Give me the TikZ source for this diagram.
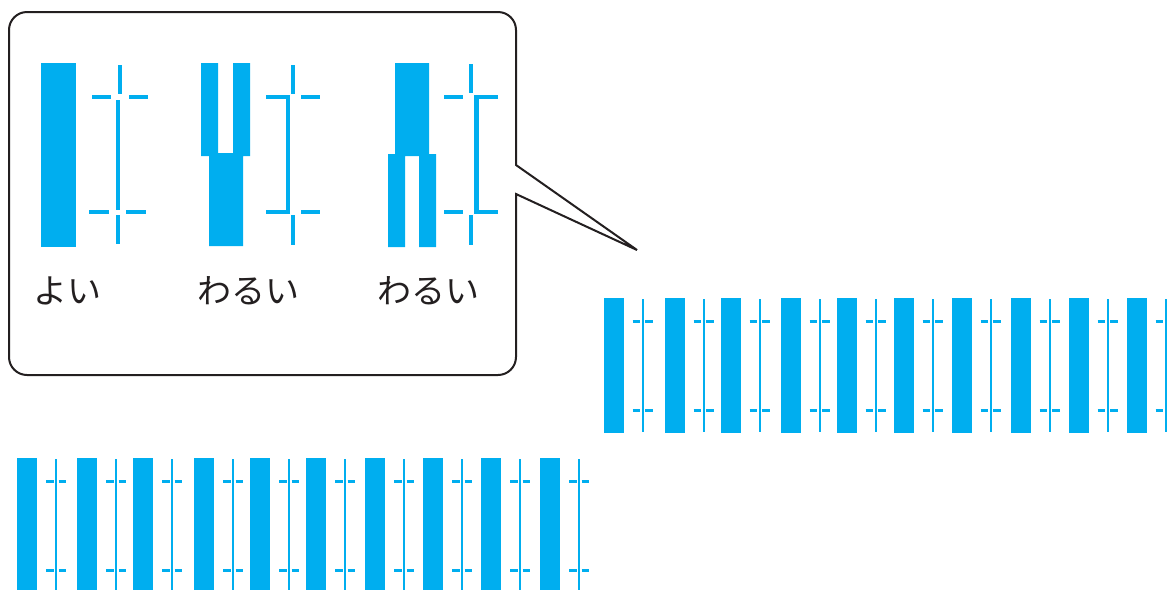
\documentclass[tikz,border=0pt]{standalone}
\usepackage{fontspec}
\newfontfamily\jpfont{Noto Sans CJK JP}
\usepackage{tikz}
\definecolor{printcyan}{RGB}{0,174,239}
\definecolor{inkline}{RGB}{35,31,32}

\begin{document}
\begin{tikzpicture}[x=1pt,y=-1pt,
  bar/.style={fill=printcyan},
  rule/.style={draw=printcyan, line width=2pt},
  tickline/.style={draw=printcyan, line width=3pt},
  bigrule/.style={draw=printcyan, line width=4.5pt, line join=miter},
  jplabel/.style={font=\jpfont\fontsize{34}{40}\selectfont, text=inkline, inner sep=0pt}]
\useasboundingbox (0,0) rectangle (1168,590);
% callout
\draw[inkline, line width=2pt, line join=miter] (637,250) -- (516,165) [rounded corners=18pt] -- (516,12) -- (9,12) -- (9,375) -- (516,375) [sharp corners] -- (516,194) -- cycle;
% good pattern
\fill[bar] (41,63) rectangle (76,247);
\draw[bigrule] (120,65) -- (120,94);
\draw[bigrule] (92,97) -- (111,97) (129,97) -- (148,97);
\draw[bigrule] (118,100) -- (118,210);
\draw[bigrule] (89,212) -- (109,212) (126,212) -- (146,212);
\draw[bigrule] (118,215) -- (118,244);
% bad pattern 1
\fill[bar] (201,63) -- (218,63) -- (218,153) -- (233,153) -- (233,63) -- (250,63) -- (250,156) -- (243,156) -- (243,246) -- (209,246) -- (209,156) -- (201,156) -- cycle;
\draw[bigrule] (293,65) -- (293,94);
\draw[bigrule] (266,97) -- (288,97) -- (288,212) -- (266,212);
\draw[bigrule] (301,97) -- (320,97) (301,212) -- (320,212);
\draw[bigrule] (293,215) -- (293,245);
% bad pattern 2
\fill[bar] (395,63) -- (429,63) -- (429,154) -- (436,154) -- (436,247) -- (419,247) -- (419,156) -- (405,156) -- (405,247) -- (388,247) -- (388,154) -- (395,154) -- cycle;
\draw[bigrule] (471,64) -- (471,93);
\draw[bigrule] (444,97) -- (463,97) (444,212) -- (463,212);
\draw[bigrule] (498,97) -- (476.5,97) -- (476.5,212) -- (498,212);
\draw[bigrule] (471,215) -- (471,245);
% labels
\node[jplabel] (good) at (68,291) {よい};
\node[jplabel] (bad1) at (248,291) {わるい};
\node[jplabel] (bad2) at (428,291) {わるい};
% right strip
\foreach \b in {604,665,721,781,837,894,952,1011,1069,1127} {
  \fill[bar] (\b,298) rectangle ++(20,135);
  \draw[rule] (\b+38.5,299) -- (\b+38.5,432);
  \draw[tickline] (\b+28.5,321) -- ++(7.5,0) (\b+41,321) -- ++(7.5,0);
  \draw[tickline] (\b+28.5,410) -- ++(7.5,0) (\b+41,410) -- ++(7.5,0);
}
% left strip
\foreach \b in {17,77,133,194,250,306,365,423,481,540} {
  \fill[bar] (\b,458) rectangle ++(20,132);
  \draw[rule] (\b+39,459) -- (\b+39,590);
  \draw[tickline] (\b+29,481) -- ++(7.5,0) (\b+41.5,481) -- ++(7.5,0);
  \draw[tickline] (\b+29,570) -- ++(7.5,0) (\b+41.5,570) -- ++(7.5,0);
}
\end{tikzpicture}
\end{document}
